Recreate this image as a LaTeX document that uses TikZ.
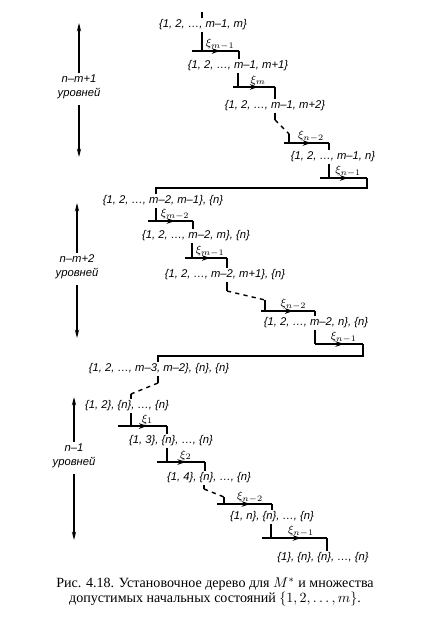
\documentclass[tikz,border=0pt]{standalone}
\usepackage{fontspec}
\setmainfont{Liberation Serif}
\setsansfont{Liberation Sans}[ItalicFont={Liberation Sans Italic}]
\usetikzlibrary{arrows.meta, decorations.markings}

\tikzset{
  stateset/.style={font=\sffamily\itshape\fontsize{8}{9}\selectfont, inner sep=1pt},
  xilab/.style={font=\footnotesize, inner sep=0.5pt},
  lvl/.style={font=\sffamily\itshape\fontsize{8}{10}\selectfont, align=center, inner sep=1pt},
  branch/.style={line width=1pt},
  midarrow/.style={line width=1.2pt, postaction={decorate}, decoration={markings, mark=at position 0.6 with {\arrow{Stealth[length=6pt, width=4pt]}}}},
  levelarrow/.style={line width=0.8pt, -{Stealth[length=6pt, width=3pt]}},
  caption/.style={font=\fontsize{10}{10.7}\selectfont, align=center, inner sep=0pt}
}

\begin{document}
\begin{tikzpicture}[x=0.025cm, y=-0.025cm]
% 420 x 636 px frame, y counted downwards
\useasboundingbox (0,0) rectangle (420,636);

\node[stateset] (s11) at (203,25)  {\{1, 2, \dots, m--1, m\}};
\node[stateset] (s12) at (238,66)  {\{1, 2, \dots, m--1, m+1\}};
\node[stateset] (s13) at (275,106) {\{1, 2, \dots, m--1, m+2\}};
\node[stateset] (s14) at (333,157) {\{1, 2, \dots, m--1, n\}};

\node[stateset] (s21) at (163,201) {\{1, 2, \dots, m--2, m--1\}, \{n\}};
\node[stateset] (s22) at (196,236) {\{1, 2, \dots, m--2, m\}, \{n\}};
\node[stateset] (s23) at (225,275) {\{1, 2, \dots, m--2, m+1\}, \{n\}};
\node[stateset] (s24) at (316,323) {\{1, 2, \dots, m--2, n\}, \{n\}};

\node[stateset] (s31) at (159,369) {\{1, 2, \dots, m--3, m--2\}, \{n\}, \{n\}};
\node[stateset] (s32) at (127,406) {\{1, 2\}, \{n\}, \dots, \{n\}};
\node[stateset] (s33) at (171,441) {\{1, 3\}, \{n\}, \dots, \{n\}};
\node[stateset] (s34) at (209,478) {\{1, 4\}, \{n\}, \dots, \{n\}};
\node[stateset] (s35) at (272,517) {\{1, n\}, \{n\}, \dots, \{n\}};
\node[stateset] (s36) at (323,558) {\{1\}, \{n\}, \{n\}, \dots, \{n\}};

\draw[branch] (s11.north -| 202,0) -- ++(0,-6);

% plain steps: from/to/stub/drop/bend/level/subscript
\foreach \a/\b/\xs/\xd/\xb/\yh/\lab in {
  s11/s12/192/202/239/51/{m-1}, s12/s13/233/238/275/87/m,
  s21/s22/148/156/193/221/{m-2}, s22/s23/185/192/227/258/{m-1},
  s32/s33/118/131/167/426/1, s33/s34/157/167/205/462/2,
  s35/s36/262/271/327/538/{n-1}} {
  \draw[branch] (\a.south -| \xd,\yh) -- (\xd,\yh);
  \draw[midarrow] (\xs,\yh) -- node[xilab, above, pos=0.6] {$\xi_{\lab}$} (\xb,\yh);
  \draw[branch] (\xb,\yh) -- (\b.north -| \xb,\yh);
}

% dashed steps
\coordinate (k13) at (275,120); \coordinate (k14) at (289,134);
\draw[branch] (s13.south -| k13) -- (k13);
\draw[branch, dashed] (k13) -- (k14);
\draw[branch] (k14) -- (289,143);
\draw[midarrow] (284,143) -- node[xilab, above, pos=0.6] {$\xi_{n-2}$} (329,143);
\draw[branch] (329,143) -- (s14.north -| 329,0);

\coordinate (k23) at (227,291); \coordinate (k24) at (265,300);
\draw[branch] (s23.south -| k23) -- (k23);
\draw[branch, dashed] (k23) -- (k24);
\draw[branch] (k24) -- (265,311);
\draw[midarrow] (261,311) -- node[xilab, above, pos=0.6] {$\xi_{n-2}$} (315,311);
\draw[branch] (315,311) -- (s24.north -| 315,0);

\coordinate (k34) at (204,489); \coordinate (k35) at (224,497);
\draw[branch] (s34.south -| k34) -- (k34);
\draw[branch, dashed] (k34) -- (k35);
\draw[branch] (k35) -- (224,504);
\draw[midarrow] (217,504) -- node[xilab, above, pos=0.6] {$\xi_{n-2}$} (272,504);
\draw[branch] (272,504) -- (s35.north -| 272,0);

\coordinate (k31) at (158,383); \coordinate (k32) at (131,394);
\draw[branch] (s31.south -| k31) -- (k31);
\draw[branch, dashed] (k31) -- (k32);
\draw[branch] (k32) -- (s32.north -| k32);

% last steps of a block, back to the left
\draw[branch] (s14.south -| 329,0) -- (329,178);
\draw[midarrow] (320,178) -- node[xilab, above, pos=0.6] {$\xi_{n-1}$} (367,178);
\draw[branch] (367,178) -- (367,188) -| (s21.north -| 156,0);

\draw[branch] (s24.south -| 315,0) -- (315,344);
\draw[midarrow] (315,344) -- node[xilab, above, pos=0.6] {$\xi_{n-1}$} (363,344);
\draw[branch] (363,344) -- (363,356) -| (s31.north -| 158,0);

% level counts
\node[lvl] (lv1) at (79,87) {n--m+1\\уровней};
\coordinate (lv1top) at (79,23); \coordinate (lv1bot) at (79,157);
\draw[levelarrow] (lv1.north) -- (lv1top);
\draw[levelarrow] ([yshift=-3pt]lv1.south) -- (lv1bot);

\node[lvl] (lv2) at (77,267) {n--m+2\\уровней};
\coordinate (lv2top) at (77,203); \coordinate (lv2bot) at (77,338);
\draw[levelarrow] (lv2.north) -- (lv2top);
\draw[levelarrow] ([yshift=-3pt]lv2.south) -- (lv2bot);

\node[lvl] (lv3) at (74,456) {n--1\\уровней};
\coordinate (lv3top) at (74,397); \coordinate (lv3bot) at (74,540);
\draw[levelarrow] (lv3.north) -- (lv3top);
\draw[levelarrow] ([yshift=-3pt]lv3.south) -- (lv3bot);

\node[caption] (cap) at (215,592) {Рис. 4.18. Установочное дерево для $M^*$ и множества\\допустимых начальных состояний $\{1, 2, \ldots, m\}$.};
\end{tikzpicture}
\end{document}
